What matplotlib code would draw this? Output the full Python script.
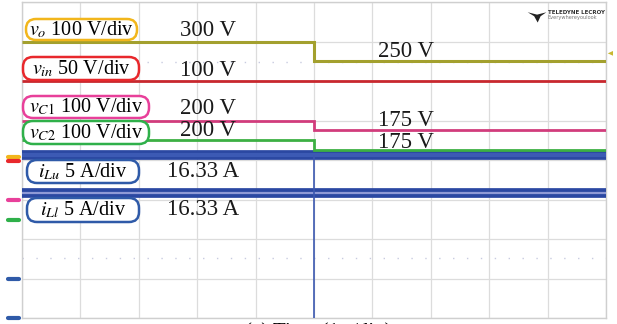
import numpy as np
import matplotlib
matplotlib.use("Agg")
import matplotlib.pyplot as plt
from matplotlib.patches import Polygon, FancyBboxPatch
from matplotlib.transforms import IdentityTransform

plt.rcParams['font.family'] = ['Liberation Serif', 'DejaVu Serif']
plt.rcParams['mathtext.fontset'] = 'stix'

W, H = 617, 324

# time axis in divisions (1 step at the centre of the screen)
t_edges = [0, 5, 10]

# channel values before / after the step
vo = [300, 250]
vin = [100, 100]
vc1 = [200, 175]
vc2 = [200, 175]
ilu = [16.33, 16.33]
ill = [16.33, 16.33]

# volts (amps) per division and channel offsets in divisions
scales = {'vo': 100, 'vin': 50, 'vc1': 100, 'vc2': 100, 'ilu': 5, 'ill': 5}
offsets = {'vo': 4.0, 'vin': 4.0, 'vc1': 3.0, 'vc2': 2.5, 'ilu': 0.86, 'ill': -0.11}

label_texts = [r'$v_o$ 100 V/div', r'$v_{in}$ 50 V/div', r'$v_{C1}$ 100 V/div',
               r'$v_{C2}$ 100 V/div', r'$i_{Lu}$ 5 A/div', r'$i_{Ll}$ 5 A/div']
label_colors = ['#f2b61c', '#e8282c', '#e8409a', '#2fb04a', '#2f5aa8', '#2f5aa8']
# label boxes in screen pixels (left, top, right, bottom)
label_boxes = [(26, 19, 137, 40), (23, 57, 139, 80), (23, 96, 149, 118),
               (23, 121, 149, 144), (27, 160, 139, 183), (27, 198, 139, 222)]

value_texts = ['300 V', '100 V', '200 V', '200 V', '16.33 A', '16.33 A',
               '250 V', '175 V', '175 V']
value_x = [2.71, 2.71, 2.71, 2.71, 2.48, 2.48, 6.1, 6.1, 6.1]
value_y = [7.27, 6.26, 5.30, 4.74, 3.72, 2.75, 6.75, 4.99, 4.45]

marker_y = [4.08, 3.97, 2.99, 2.48, 0.99, 0.0]
marker_colors = ['#f2b61c', '#e8282c', '#e8409a', '#2fb04a', '#2f5aa8', '#2f5aa8']


def pos(name, vals):
    return np.array(vals) / scales[name] + offsets[name]


fig = plt.figure(figsize=(W / 100, H / 100), dpi=100)
ax = fig.add_axes([22 / W, 6 / H, 584 / W, 316 / H])
ax.set_xlim(0, 10)
ax.set_ylim(0, 8)
ax.set_xticks(np.arange(0, 11))
ax.set_yticks(np.arange(0, 9))
ax.grid(True, color='#dcdcdc', lw=0.9)
ax.tick_params(length=0, labelleft=False, labelbottom=False)
for s in ax.spines.values():
    s.set_color('#cfcfcf')
    s.set_linewidth(1.0)

# dotted guide rows
for yy in [6.48, 1.52]:
    ax.axhline(yy, color='#c8cbe0', lw=1.0, ls=(0, (1, 9)))

# traces
ax.stairs(pos('vo', vo), t_edges, baseline=None, color='#a3a02e', lw=2.2, zorder=3)
ax.stairs(pos('vin', vin), t_edges, baseline=None, color='#c8282e', lw=2.0, zorder=3)
ax.stairs(pos('vc1', vc1), t_edges, baseline=None, color='#d13c7c', lw=2.0, zorder=3)
ax.stairs(pos('ilu', ilu), t_edges, baseline=None, color='#2b48a2', lw=7.0, zorder=3)
ax.stairs(pos('ilu', ilu), t_edges, baseline=None, color='#3c5ab4', lw=3.0, zorder=3)
ax.stairs(pos('vc2', vc2), t_edges, baseline=None, color='#3cb043', lw=2.0, zorder=4)
ax.stairs(pos('ill', ill), t_edges, baseline=None, color='#2b48a2', lw=7.0, zorder=3)
ax.stairs(pos('ill', ill), t_edges, baseline=None, color='#8f9ad6', lw=1.6, zorder=3)
ax.vlines(t_edges[1], 0, pos('ilu', ilu)[0], color='#3c58b0', lw=1.2, zorder=3)

# channel labels (pill shaped boxes)
for txt, c, (x0, y0, x1, y1) in zip(label_texts, label_colors, label_boxes):
    box = FancyBboxPatch((x0, H - y1), x1 - x0, y1 - y0,
                         boxstyle='round,pad=0,rounding_size=10',
                         transform=IdentityTransform(), fc='white', ec=c, lw=1.8,
                         zorder=6)
    fig.patches.append(box)
    fig.text((x0 + x1) / 2, H - (y0 + y1) / 2, txt, fontsize=14.5, va='center',
             ha='center', transform=IdentityTransform(), zorder=7)

for txt, xx, yy in zip(value_texts, value_x, value_y):
    ax.text(xx, yy, txt, fontsize=16.5, va='center', ha='left', color='#1a1a1a', zorder=6)

# ground markers on the left edge
for yy, c in zip(marker_y, marker_colors):
    ax.plot([-0.24, -0.05], [yy, yy], color=c, lw=3.0, clip_on=False,
            solid_capstyle='round', zorder=5)

# trigger level marker on the right edge
ax.add_patch(Polygon([[10.03, 6.7], [10.12, 6.64], [10.12, 6.76]], closed=True,
                     fc='#c8b830', ec='none', clip_on=False))

# logo
ax.add_patch(Polygon([[8.66, 7.74], [8.82, 7.68], [8.98, 7.74], [8.88, 7.64],
                      [8.83, 7.48], [8.77, 7.64]], closed=True, fc='#222222', ec='none'))
ax.text(9.0, 7.73, 'TELEDYNE LECROY', fontsize=3.95, family='DejaVu Sans',
        fontweight='bold', color='#333333', va='center', ha='left')
ax.text(9.0, 7.6, 'Everywhereyoulook', fontsize=3.6, family='DejaVu Sans',
        color='#777777', va='center', ha='left')

fig.text(0.515, 0.5 / H, '(a) Time (1 s/div)', fontsize=15, ha='center', va='top')

fig.savefig('out.png', dpi=100)
